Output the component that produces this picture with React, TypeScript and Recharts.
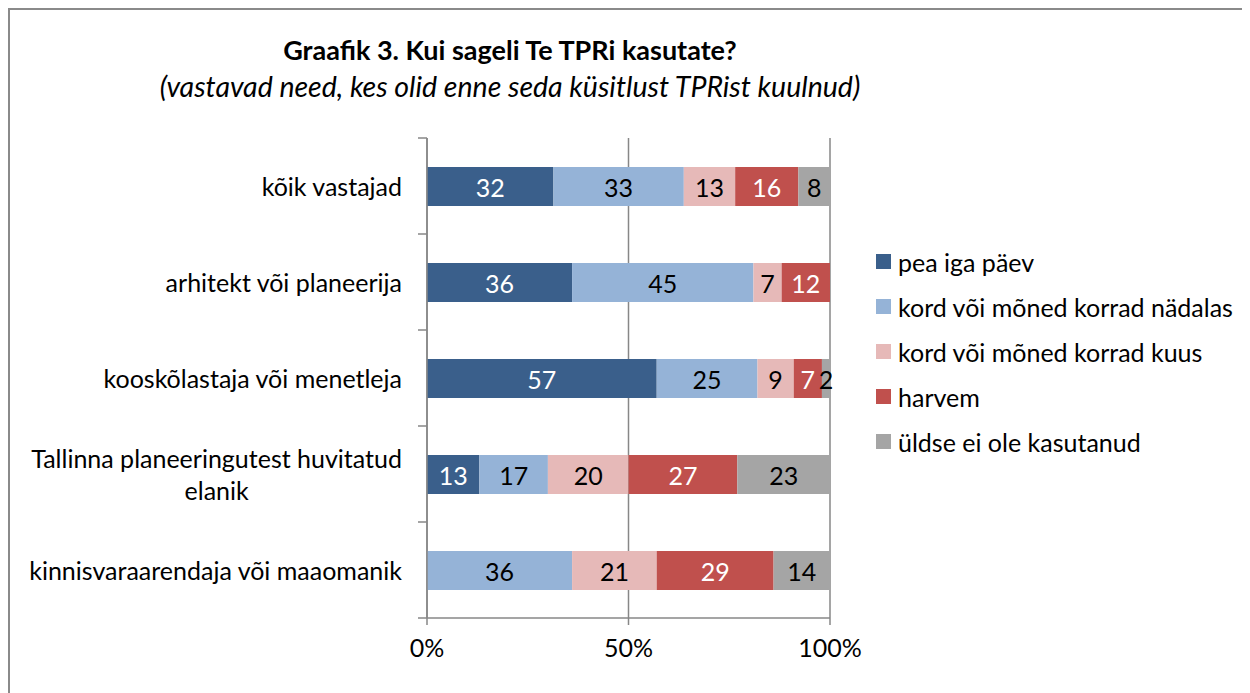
import React from "react";
import { Bar, BarChart, CartesianGrid, LabelList, XAxis, YAxis } from "recharts";

const CATEGORIES = [
  "kõik vastajad",
  "arhitekt või planeerija",
  "kooskõlastaja või menetleja",
  "Tallinna planeeringutest huvitatud\nelanik",
  "kinnisvaraarendaja või maaomanik",
];
const PEA_IGA_PAEV = [32, 36, 57, 13, 0];
const NADALAS = [33, 45, 25, 17, 36];
const KUUS = [13, 7, 9, 20, 21];
const HARVEM = [16, 12, 7, 27, 29];
const EI_OLE = [8, 0, 2, 23, 14];
const X_TICKS = [0, 0.5, 1];

const SERIES = [
  { key: "s0", name: "pea iga päev", values: PEA_IGA_PAEV, color: "#3A5F8B", text: "#ffffff" },
  { key: "s1", name: "kord või mõned korrad nädalas", values: NADALAS, color: "#95B3D7", text: "#000000" },
  { key: "s2", name: "kord või mõned korrad kuus", values: KUUS, color: "#E6B9B8", text: "#000000" },
  { key: "s3", name: "harvem", values: HARVEM, color: "#C0504D", text: "#ffffff" },
  { key: "s4", name: "üldse ei ole kasutanud", values: EI_OLE, color: "#A5A5A5", text: "#000000" },
];

const data = CATEGORIES.map((name, i) => {
  const row: Record<string, string | number> = { name };
  SERIES.forEach((s) => {
    row[s.key] = s.values[i];
  });
  return row;
});

const FONT = "Lato, 'Open Sans', sans-serif";
const AXIS = "#878787";
const FS = 25;

let ctx: CanvasRenderingContext2D | null = null;
function textWidth(t: string) {
  if (!ctx) ctx = document.createElement("canvas").getContext("2d");
  if (!ctx) return t.length * FS * 0.5;
  ctx.font = `${FS}px Lato`;
  return ctx.measureText(t).width;
}

function YTick(props: any) {
  const { x, y, payload, index } = props;
  const half = 48;
  const lines = String(payload.value).split("\n");
  const maxW = Math.max(...lines.map(textWidth));
  const right = x - 25;
  const lh = 32;
  const y0 = y - ((lines.length - 1) * lh) / 2;
  return (
    <g>
      <line x1={x - 9} x2={x} y1={y - half} y2={y - half} stroke={AXIS} strokeWidth={1.5} />
      {index === CATEGORIES.length - 1 && (
        <line x1={x - 9} x2={x} y1={y + half} y2={y + half} stroke={AXIS} strokeWidth={1.5} />
      )}
      {lines.map((l, i) => (
        <text
          key={i}
          x={lines.length > 1 ? right - maxW / 2 : right}
          y={y0 + i * lh}
          textAnchor={lines.length > 1 ? "middle" : "end"}
          dominantBaseline="central"
          fontFamily={FONT}
          fontSize={FS}
          fill="#000"
        >
          {l}
        </text>
      ))}
    </g>
  );
}

const makeLabel = (color: string) => (props: any) => {
  const { x, y, width, height, value } = props;
  if (!value) return null;
  return (
    <text
      x={Number(x) + Number(width) / 2}
      y={Number(y) + Number(height) / 2}
      textAnchor="middle"
      dominantBaseline="central"
      fill={color}
      fontFamily={FONT}
      fontSize={FS}
    >
      {value}
    </text>
  );
};

function LegendBox() {
  return (
    <div style={{ position: "absolute", left: 866, top: 229, fontFamily: FONT, fontSize: FS, color: "#000" }}>
      {SERIES.map((s) => (
        <div key={s.key} style={{ display: "flex", alignItems: "center", height: 45, whiteSpace: "nowrap" }}>
          <span style={{ width: 15, height: 15, background: s.color, marginRight: 7, display: "inline-block" }} />
          <span>{s.name}</span>
        </div>
      ))}
    </div>
  );
}

export default function App() {
  return (
    <div
      style={{
        width: 1242,
        height: 685,
        overflow: "hidden",
        borderTop: "2px solid #8a8a8a",
        borderLeft: "2px solid #8a8a8a",
        boxSizing: "border-box",
        position: "relative",
        background: "#fff",
      }}
    >
      <div style={{ position: "absolute", left: 0, top: 24, width: 1000, textAlign: "center", fontFamily: FONT, zIndex: 2 }}>
        <div style={{ fontWeight: 700, fontSize: 27, lineHeight: "32px" }}>Graafik 3. Kui sageli Te TPRi kasutate?</div>
        <div style={{ fontStyle: "italic", fontSize: 28.5, lineHeight: "34px", marginTop: 3 }}>
          (vastavad need, kes olid enne seda küsitlust TPRist kuulnud)
        </div>
      </div>
      <BarChart
        width={1240}
        height={683}
        data={data}
        layout="vertical"
        stackOffset="expand"
        margin={{ top: 128, right: 420, bottom: 35, left: 0 }}
      >
        <CartesianGrid horizontal={false} stroke={AXIS} strokeWidth={1.5} />
        <XAxis
          type="number"
          domain={[0, 1]}
          ticks={X_TICKS}
          tickFormatter={(v: number) => `${Math.round(v * 100)}%`}
          axisLine={{ stroke: AXIS, strokeWidth: 1.5 }}
          tickLine={{ stroke: AXIS, strokeWidth: 1.5 }}
          tickSize={7}
          tickMargin={14}
          height={40}
          tick={{ fontFamily: FONT, fontSize: FS, fill: "#000" }}
        />
        <YAxis
          type="category"
          dataKey="name"
          width={417}
          axisLine={{ stroke: AXIS, strokeWidth: 1.5 }}
          tickLine={false}
          tickSize={0}
          tickMargin={0}
          tick={<YTick />}
          interval={0}
        />
        {SERIES.map((s) => (
          <Bar key={s.key} dataKey={s.key} name={s.name} stackId="a" fill={s.color} barSize={39} isAnimationActive={false}>
            <LabelList dataKey={s.key} content={makeLabel(s.text)} />
          </Bar>
        ))}
      </BarChart>
      <LegendBox />
    </div>
  );
}
